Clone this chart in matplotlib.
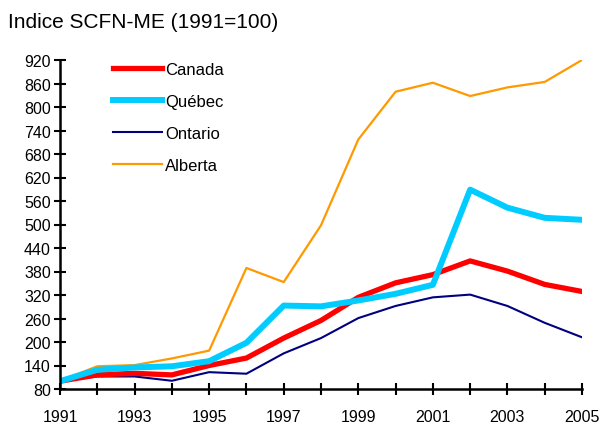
import matplotlib
matplotlib.use("Agg")
import matplotlib.pyplot as plt

years = list(range(1991, 2006))
canada = [100, 116, 120, 116, 140, 159, 210, 255, 314, 351, 372, 407, 381, 347, 329]
quebec = [100, 129, 135, 138, 151, 198, 293, 291, 306, 323, 346, 589, 543, 517, 512]
ontario = [100, 112, 112, 101, 123, 119, 171, 210, 261, 292, 314, 321, 292, 249, 212]
alberta = [101, 138, 141, 158, 178, 389, 353, 498, 717, 839, 862, 828, 850, 864, 920]

series_names = ["Canada", "Québec", "Ontario", "Alberta"]
y_ticks = list(range(80, 921, 60))
x_ticks = list(range(1991, 2006, 2))
title = "Indice SCFN-ME (1991=100)"

plt.rcParams['font.family'] = ['Liberation Sans', 'DejaVu Sans']

fig = plt.figure(figsize=(6.03, 4.27), dpi=100)
ax = fig.add_axes([60/603, 1 - 390/427, (582-60)/603, (390-61)/427])

ax.plot(years, alberta, color='#FF9900', lw=1.6, label=series_names[3], zorder=2)
ax.plot(years, ontario, color='#000080', lw=1.5, label=series_names[2], zorder=3)
ax.plot(years, canada, color='#FF0000', lw=3.8, label=series_names[0], zorder=4)
ax.plot(years, quebec, color='#00CCFF', lw=4.3, label=series_names[1], zorder=5)

ax.set_xlim(1991, 2005)
ax.set_ylim(80, 920)
ax.set_yticks(y_ticks)
ax.set_xticks(x_ticks)
ax.set_xticks(years, minor=True)
ax.tick_params(axis='both', which='both', direction='inout', length=9, width=1.5, labelsize=11.5)
ax.tick_params(axis='x', which='major', pad=10)
ax.tick_params(axis='y', pad=2)
for s in ['top', 'right']:
    ax.spines[s].set_visible(False)
for s in ['left', 'bottom']:
    ax.spines[s].set_linewidth(1.8)
    ax.spines[s].set_zorder(10)

handles, labels = ax.get_legend_handles_labels()
order = [labels.index(n) for n in series_names]
leg = ax.legend([handles[i] for i in order], [labels[i] for i in order],
                loc='upper left', bbox_to_anchor=(0.072, 1.04), frameon=False,
                fontsize=12, handlelength=2.95, handletextpad=0.2, labelspacing=1.02)

fig.text(8/603, 1 - 23/427, title, fontsize=15, ha='left', va='center')

fig.savefig('out.png', dpi=100)
